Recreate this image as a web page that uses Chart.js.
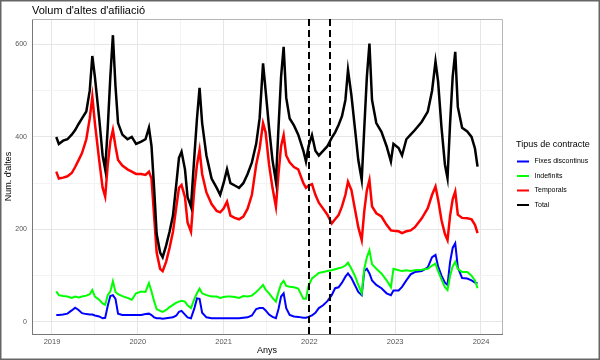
<!DOCTYPE html>
<html>
<head>
<meta charset="utf-8">
<script src="https://cdn.jsdelivr.net/npm/chart.js@4"></script>
<style>
  html, body { margin: 0; padding: 0; background: #fff; }
  canvas { display: block; }
</style>
</head>
<body>
<canvas id="chart" width="600" height="360"></canvas>
<script>
// Dates as decimal years
const years = [
  2019.05, 2019.08, 2019.13, 2019.18, 2019.23, 2019.27, 2019.31, 2019.35, 2019.40, 2019.44,
  2019.47, 2019.50, 2019.55, 2019.59, 2019.62, 2019.65, 2019.68, 2019.71, 2019.74, 2019.77,
  2019.82, 2019.88, 2019.93, 2019.98, 2020.04, 2020.09, 2020.13, 2020.16, 2020.19, 2020.22,
  2020.26, 2020.29, 2020.33, 2020.37, 2020.41, 2020.45, 2020.48, 2020.51, 2020.55, 2020.58,
  2020.62, 2020.66, 2020.69, 2020.72, 2020.75, 2020.80, 2020.86, 2020.92, 2020.96, 2021.00,
  2021.04, 2021.08, 2021.13, 2021.18, 2021.23, 2021.28, 2021.33, 2021.38, 2021.42, 2021.46,
  2021.49, 2021.53, 2021.57, 2021.61, 2021.64, 2021.67, 2021.70, 2021.73, 2021.77, 2021.82,
  2021.87, 2021.93, 2021.96, 2021.99, 2022.03, 2022.07, 2022.11, 2022.16, 2022.21, 2022.26,
  2022.30, 2022.34, 2022.38, 2022.42, 2022.45, 2022.49, 2022.53, 2022.57, 2022.61, 2022.64,
  2022.67, 2022.70, 2022.73, 2022.78, 2022.84, 2022.90, 2022.95, 2022.98, 2023.04, 2023.08,
  2023.13, 2023.18, 2023.23, 2023.31, 2023.38, 2023.43, 2023.47, 2023.50, 2023.54, 2023.58,
  2023.61, 2023.64, 2023.67, 2023.70, 2023.73, 2023.78, 2023.84, 2023.89, 2023.93, 2023.96
];

const total = [
  400, 385, 392, 395, 405, 415, 428, 440, 455, 500,
  575, 530, 440, 360, 330, 420, 530, 620, 510, 430,
  405, 395, 400, 385, 390, 395, 420, 380, 290, 190,
  150, 140, 165, 195, 230, 300, 355, 368, 330, 270,
  249, 360, 440, 506, 430, 360, 310, 290, 275, 300,
  330, 300, 295, 290, 300, 320, 345, 385, 440, 559,
  500, 420, 350, 303, 420, 530, 595, 485, 440, 425,
  405, 370, 347, 380, 404, 370, 360, 370, 380, 398,
  410, 426, 445, 480, 545, 490, 420, 350, 307, 420,
  530, 602, 480, 430, 411, 380, 347, 385, 376, 360,
  395, 405, 415, 433, 455, 500, 563, 520, 420, 340,
  311, 430, 530, 584, 465, 420, 412, 400, 375, 336
];

const temporals = [
  325, 310, 312, 315, 322, 335, 350, 365, 395, 440,
  487, 430, 350, 290, 271, 340, 390, 415, 380, 350,
  338, 330, 325, 320, 320, 318, 325, 310, 230, 150,
  115, 110, 130, 160, 195, 250, 290, 296, 270, 215,
  195, 290, 340, 372, 320, 280, 255, 240, 237, 245,
  260, 230, 225, 222, 228, 245, 275, 340, 375, 430,
  410, 340, 290, 249, 320, 380, 404, 360, 345, 335,
  330, 300, 290, 295, 298, 275, 258, 245, 232, 213,
  222, 231, 250, 275, 303, 285, 245, 205, 177, 240,
  285, 307, 250, 235, 228, 210, 198, 197, 196, 192,
  196, 198, 205, 224, 246, 275, 293, 265, 220, 190,
  177, 230, 265, 282, 232, 225, 224, 222, 210, 192
];

const indefinits = [
  66, 58, 56, 55, 52, 55, 53, 55, 57, 60,
  69, 55, 48, 40, 37, 58, 66, 88, 65, 60,
  56, 52, 48, 62, 66, 65, 84, 66, 45, 28,
  24, 22, 26, 32, 37, 42, 44, 46, 44, 36,
  30, 50, 62, 72, 62, 58, 55, 55, 52, 54,
  55, 55, 54, 52, 56, 55, 57, 65, 72, 80,
  70, 62, 52, 44, 65, 82, 89, 78, 76, 75,
  72, 50, 50, 78, 94, 100, 106, 108, 110, 112,
  114, 116, 118, 122, 128, 115, 100, 80, 62, 115,
  140, 155, 125, 115, 105, 90, 75, 115, 112, 110,
  112, 110, 112, 113, 115, 122, 126, 110, 92, 75,
  69, 100, 120, 130, 115, 108, 108, 100, 90, 73
];

const fixes = [
  15, 15, 16, 18, 25, 31, 26, 19, 17, 16,
  16, 14, 12, 8, 9, 35, 56, 58, 50, 18,
  15, 15, 15, 15, 15, 17, 18, 15, 10, 8,
  8, 7, 8, 9, 10, 14, 22, 24, 16, 10,
  8, 30, 51, 50, 20, 10, 8, 8, 8, 8,
  8, 8, 8, 8, 9, 10, 14, 28, 30, 30,
  25, 16, 11, 8, 28, 55, 62, 30, 15, 12,
  11, 9, 9, 11, 14, 20, 30, 36, 45, 58,
  73, 75, 85, 98, 105, 95, 80, 65, 58, 110,
  115, 105, 90, 80, 73, 62, 58, 68, 68, 76,
  90, 103, 108, 110, 118, 140, 145, 120, 100, 85,
  80, 130, 160, 170, 118, 95, 94, 90, 85, 84
];

// Dashed reference lines (labour reform dates)
const reformDates = [2021.997, 2022.244];

const seriesNames = ['Fixes discontinus', 'Indefinits', 'Temporals', 'Total'];
const seriesColors = ['#0000ff', '#00ff00', '#ff0000', '#000000'];
const seriesValues = [fixes, indefinits, temporals, total];
const seriesWidths = [2, 2, 2.5, 2.5];

const yTicks = [0, 100, 200, 300, 400, 500, 600];
const yLabelled = [0, 200, 400, 600];
const xTicks = [2019, 2019.5, 2020, 2020.5, 2021, 2021.5, 2022, 2022.5, 2023, 2023.5, 2024];
const yearLabels = ['2019', '2020', '2021', '2022', '2023', '2024'];

const FONT = "'Liberation Sans', Arial, sans-serif";

const datasets = seriesNames.map((name, i) => ({
  label: name,
  data: years.map((x, j) => ({ x: x, y: seriesValues[i][j] })),
  borderColor: seriesColors[i],
  backgroundColor: seriesColors[i],
  borderWidth: seriesWidths[i],
  pointRadius: 0,
  tension: 0,
  order: seriesNames.length - i // Total drawn last, on top
}));

// title, panel border, dashed lines, legend and outer frame
const extras = {
  id: 'extras',
  afterDraw(chart) {
    const { ctx, chartArea: a, scales: { x } } = chart;
    ctx.save();

    // panel border (top / right)
    ctx.strokeStyle = '#b5b5b5';
    ctx.lineWidth = 1;
    ctx.beginPath();
    ctx.moveTo(a.left, a.top + 0.5);
    ctx.lineTo(a.right + 0.5, a.top + 0.5);
    ctx.lineTo(a.right + 0.5, a.bottom);
    ctx.stroke();

    // reform lines
    ctx.strokeStyle = '#000';
    ctx.lineWidth = 2;
    ctx.setLineDash([7, 4]);
    reformDates.forEach(d => {
      const px = Math.round(x.getPixelForValue(d));
      ctx.beginPath();
      ctx.moveTo(px, a.top);
      ctx.lineTo(px, a.bottom);
      ctx.stroke();
    });
    ctx.setLineDash([]);

    // title
    ctx.fillStyle = '#000';
    ctx.font = '11px ' + FONT;
    ctx.textAlign = 'left';
    ctx.textBaseline = 'alphabetic';
    ctx.fillText("Volum d'altes d'afiliació", a.left, 13.5);

    // legend
    ctx.font = '9px ' + FONT;
    ctx.textBaseline = 'middle';
    ctx.fillText('Tipus de contracte', 516, 145);
    ctx.font = '7px ' + FONT;
    seriesNames.forEach((name, i) => {
      const y = 161.5 + i * 14.5;
      ctx.strokeStyle = seriesColors[i];
      ctx.lineWidth = 2;
      ctx.beginPath();
      ctx.moveTo(517, y);
      ctx.lineTo(529, y);
      ctx.stroke();
      ctx.fillStyle = '#000';
      ctx.fillText(name, 534.5, y);
    });

    // outer frame
    ctx.strokeStyle = '#666';
    ctx.lineWidth = 1.5;
    ctx.strokeRect(0.75, 0.75, 598.5, 358.5);
    ctx.restore();
  }
};

new Chart(document.getElementById('chart'), {
  type: 'line',
  data: { datasets: datasets },
  options: {
    responsive: false,
    animation: false,
    layout: { padding: { left: 0, right: 98, top: 19, bottom: 0 } },
    plugins: {
      legend: { display: false },
      tooltip: { enabled: false }
    },
    scales: {
      x: {
        type: 'linear',
        min: 2018.767,
        max: 2024.245,
        afterFit: s => { s.height = 26; },
        afterBuildTicks: s => { s.ticks = xTicks.map(v => ({ value: v })); },
        grid: {
          drawTicks: false,
          color: c => (c.tick && c.tick.value % 1 === 0) ? '#e6e6e6' : '#f3f3f3',
          lineWidth: 1
        },
        border: { display: true, color: '#777', width: 1 },
        ticks: {
          padding: 3,
          color: '#555',
          font: { family: FONT, size: 7.5 },
          maxRotation: 0,
          autoSkip: false,
          callback: v => yearLabels.includes(String(v)) ? String(v) : ''
        },
        title: {
          display: true,
          text: 'Anys',
          color: '#000',
          font: { family: FONT, size: 9 },
          padding: { top: 0, bottom: 4 }
        }
      },
      y: {
        min: -26,
        max: 655,
        afterFit: s => { s.width = 32; },
        afterBuildTicks: s => { s.ticks = yTicks.map(v => ({ value: v })); },
        grid: {
          drawTicks: false,
          color: c => (c.tick && yLabelled.includes(c.tick.value)) ? '#e6e6e6' : '#f3f3f3',
          lineWidth: 1
        },
        border: { display: true, color: '#777', width: 1 },
        ticks: {
          padding: 5,
          color: '#555',
          font: { family: FONT, size: 7 },
          autoSkip: false,
          callback: v => yLabelled.includes(v) ? String(v) : ''
        },
        title: {
          display: true,
          text: "Num. d'altes",
          color: '#000',
          font: { family: FONT, size: 9 },
          padding: { top: 3, bottom: 0 }
        }
      }
    }
  },
  plugins: [extras]
});
</script>
</body>
</html>
